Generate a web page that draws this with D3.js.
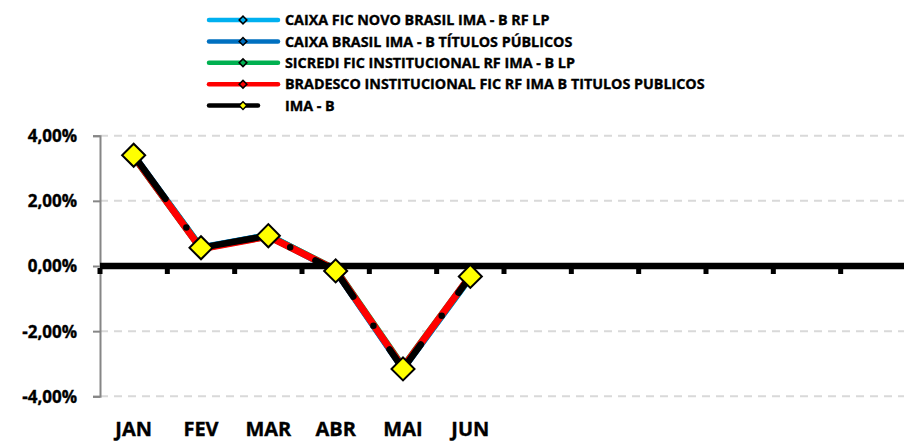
<!DOCTYPE html>
<html>
  <head>
    <meta charset="utf-8">
    <title>Rentabilidade mensal dos fundos x IMA - B</title>
    <script src="https://cdn.jsdelivr.net/npm/d3@7"></script>
    <style>
      body { margin: 0; background: #fff; }
      text { font-family: "Open Sans", sans-serif; font-weight: bold; fill: #000; stroke: #000; stroke-width: 0.35px; }
    </style>
  </head>
  <body>
    <div id="chart"></div>
    <script>
      // months on the category axis (only the first six carry labels)
      var months = ["JAN", "FEV", "MAR", "ABR", "MAI", "JUN", "", "", "", "", "", ""];
      var yTicks = [-4, -2, 0, 2, 4];

      // monthly returns, in %
      var caixaNovoBrasil = [3.38, 0.55, 0.94, -0.13, -3.14, -0.34];
      var caixaBrasil     = [3.39, 0.56, 0.93, -0.14, -3.15, -0.33];
      var sicredi         = [3.36, 0.54, 0.92, -0.11, -3.10, -0.31];
      var bradesco        = [3.37, 0.53, 0.91, -0.12, -3.12, -0.30];
      var imaB            = [3.40, 0.56, 0.93, -0.15, -3.16, -0.32];

      var series = [
        {name: "CAIXA FIC NOVO BRASIL IMA - B RF LP", color: "#00B0F0", values: caixaNovoBrasil},
        {name: "CAIXA BRASIL IMA - B TÍTULOS PÚBLICOS", color: "#0070C0", values: caixaBrasil},
        {name: "SICREDI FIC INSTITUCIONAL RF IMA - B LP", color: "#00B050", values: sicredi},
        {name: "BRADESCO INSTITUCIONAL FIC RF IMA B TITULOS PUBLICOS", color: "#FF0000", values: bradesco},
        {name: "IMA - B", color: "#000000", values: imaB, bench: true}
      ];

      var width = 904, height = 441;
      var svg = d3.select("#chart").append("svg")
        .attr("width", width)
        .attr("height", height);

      var x = d3.scaleBand()
        .domain(d3.range(months.length))
        .range([100, 908])
        .padding(0);

      var y = d3.scaleLinear()
        .domain([-4, 4])
        .range([396.3, 135.7]);

      var locale = d3.formatLocale({decimal: ",", thousands: ".", grouping: [3], currency: ["R$", ""], minus: "-"});
      var fmt = locale.format(".2f");

      // dashed grid
      svg.append("g")
        .selectAll("line")
        .data(yTicks.filter(function(d) { return d !== 0; }))
        .enter().append("line")
          .attr("x1", 100).attr("x2", width)
          .attr("y1", function(d) { return y(d); })
          .attr("y2", function(d) { return y(d); })
          .attr("stroke", "#d9d9d9")
          .attr("stroke-width", 2)
          .attr("stroke-dasharray", "8 6");

      // Y axis
      var yAxis = svg.append("g")
        .attr("transform", "translate(100,0)")
        .call(d3.axisLeft(y).tickValues(yTicks).tickSize(7).tickPadding(16)
          .tickFormat(function(d) { return fmt(d) + "%"; }));
      yAxis.select(".domain").attr("stroke", "#868686").attr("stroke-width", 2);
      yAxis.selectAll(".tick line").attr("stroke", "#868686").attr("stroke-width", 2);
      yAxis.selectAll("text")
        .style("font-size", "17px")
        .style("font-family", "'Open Sans', sans-serif")
        .style("font-weight", "bold")
        .attr("dy", "0.35em");

      // X labels at the bottom of the plot
      var xAxis = svg.append("g")
        .attr("transform", "translate(0,396)")
        .call(d3.axisBottom(x).tickSize(0).tickFormat(function(i) { return months[i]; }));
      xAxis.select(".domain").remove();
      xAxis.selectAll("text")
        .attr("y", 40)
        .attr("dy", 0)
        .style("font-size", "20px")
        .style("font-family", "'Open Sans', sans-serif")
        .style("font-weight", "bold");

      // series lines
      var line = d3.line()
        .x(function(d, i) { return x(i) + x.bandwidth() / 2; })
        .y(function(d) { return y(d); });

      series.forEach(function(s) {
        var p = svg.append("path")
          .datum(s.values)
          .attr("d", line)
          .attr("fill", "none")
          .attr("stroke", s.color)
          .attr("stroke-width", s.bench ? 6.5 : 7)
          .attr("stroke-linejoin", "round")
          .attr("stroke-linecap", "round");
        if (s.bench) p.attr("stroke-dasharray", "54 35.5 0 28.5");
      });

      // zero line with category ticks
      var y0 = y(0);
      svg.append("line")
        .attr("x1", 100).attr("x2", width)
        .attr("y1", y0).attr("y2", y0)
        .attr("stroke", "#000")
        .attr("stroke-width", 6.5);
      svg.append("g")
        .selectAll("rect")
        .data(d3.range(months.length + 1))
        .enter().append("rect")
          .attr("x", function(i) { return 100 + i * x.step() - 2.5; })
          .attr("y", y0 + 2)
          .attr("width", 5)
          .attr("height", 6)
          .attr("fill", "#000");

      // benchmark markers
      var diamond = d3.symbol().type(d3.symbolSquare).size(265);
      svg.append("g")
        .selectAll("path")
        .data(imaB)
        .enter().append("path")
          .attr("d", diamond)
          .attr("transform", function(d, i) {
            return "translate(" + (x(i) + x.bandwidth() / 2) + "," + y(d) + ") rotate(45)";
          })
          .attr("fill", "#FFFF00")
          .attr("stroke", "#000")
          .attr("stroke-width", 2);

      // legend
      var small = d3.symbol().type(d3.symbolSquare).size(30);
      var legend = svg.append("g")
        .selectAll("g")
        .data(series)
        .enter().append("g")
          .attr("transform", function(d, i) { return "translate(0," + (20 + i * 21.4) + ")"; });
      legend.append("line")
        .attr("x1", 209)
        .attr("x2", function(d) { return d.bench ? 258 : 278; })
        .attr("stroke", function(d) { return d.color; })
        .attr("stroke-width", 4.5)
        .attr("stroke-linecap", "round");
      legend.append("path")
        .attr("d", small)
        .attr("transform", "translate(243,0) rotate(45)")
        .attr("fill", function(d) { return d.bench ? "#FFFF00" : d.color; })
        .attr("stroke", "#000")
        .attr("stroke-width", 1.5);
      legend.append("text")
        .attr("x", 285)
        .attr("dy", "0.36em")
        .style("font-size", "14.3px")
        .text(function(d) { return d.name; });
    </script>
  </body>
</html>
